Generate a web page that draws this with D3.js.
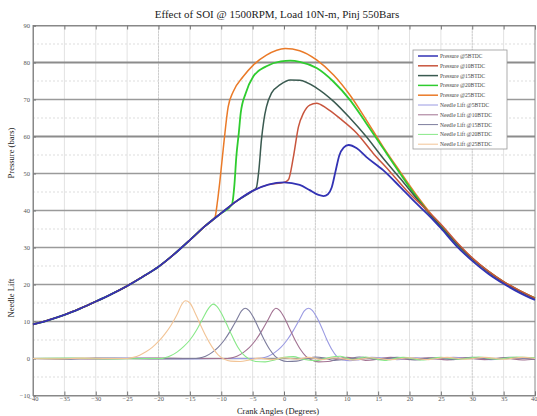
<!DOCTYPE html>
<html><head><meta charset="utf-8">
<script src="https://cdn.jsdelivr.net/npm/d3@7"></script>
<style>body{margin:0;background:#fff}svg{display:block}text{font-family:"Liberation Serif","Times New Roman",serif}</style>
</head><body><svg id="c" width="537" height="416"></svg>
<script>
const xTicks = [-40,-35,-30,-25,-20,-15,-10,-5,0,5,10,15,20,25,30,35,40];
const yTicks = [-10,0,10,20,30,40,50,60,70,80,90];
const title = "Effect of SOI @ 1500RPM, Load 10N-m, Pinj 550Bars";
const seriesNames = ["Pressure @5BTDC","Pressure @10BTDC","Pressure @15BTDC","Pressure @20BTDC","Pressure @25BTDC",
  "Needle Lift @5BTDC","Needle Lift @10BTDC","Needle Lift @15BTDC","Needle Lift @20BTDC","Needle Lift @25BTDC"];
const seriesColors = ["#3232b4","#c8553d","#3a5a50","#2fcc2f","#ea7a28","#9a9ae2","#a27292","#7c7c9c","#88e888","#f2c496"];

const p5 = [[-40,9.2],[-37.5,10.4],[-35,11.8],[-32.5,13.5],[-30,15.4],[-27.5,17.4],[-25,19.6],[-22.5,22.1],[-20,24.8],[-17.5,28.2],[-15,32],[-12.5,35.9],[-10,39.3],[-7.5,42.6],[-5,45.3],[-2.5,47],[0,47.6],[2.5,46.9],[4.1,45.5],[5.5,44.2],[6.3,43.9],[7,44.4],[7.6,46.2],[8.2,50.5],[8.8,54.8],[9.5,57],[10.3,57.7],[11.6,56.8],[13.1,54.5],[15.8,50.9],[18.5,46.4],[21.1,41.9],[23.8,37.4],[25,35.2],[27.5,30.4],[30,26.4],[32.5,23],[35,20.2],[37.5,17.8],[40,15.8]];
const p10 = [[-40,9.2],[-37.5,10.4],[-35,11.8],[-32.5,13.5],[-30,15.4],[-27.5,17.4],[-25,19.6],[-22.5,22.1],[-20,24.8],[-17.5,28.2],[-15,32],[-12.5,35.9],[-10,39.3],[-7.5,42.6],[-5,45.3],[-2.5,47],[0,47.6],[0.7,48.3],[1.5,54.5],[2.3,62.6],[3.1,66.3],[4.1,68.5],[5.2,69],[6.8,67.6],[8.9,64.9],[11.6,60.9],[14.2,55.5],[16.9,50.5],[19.5,45.5],[22.2,41],[24.9,36.5],[27.5,31.5],[30,27.2],[32.5,23.7],[35,20.8],[37.5,18.4],[40,16.3]];
const p15 = [[-40,9.2],[-37.5,10.4],[-35,11.8],[-32.5,13.5],[-30,15.4],[-27.5,17.4],[-25,19.6],[-22.5,22.1],[-20,24.8],[-17.5,28.2],[-15,32],[-12.5,35.9],[-10,39.3],[-7.5,42.6],[-5,45.3],[-4.4,46.2],[-4,51],[-3.6,59],[-3.2,64.5],[-2.8,68],[-2,71.7],[-0.6,74],[1,75.3],[2.5,75.2],[5.2,73.1],[7.9,69.5],[10.5,65],[13.1,60],[15.8,54.1],[18.5,48.7],[21.1,43.3],[23.8,37.9],[25,35.6],[27.5,31],[30,26.9],[32.5,23.5],[35,20.6],[37.5,18.2],[40,16.2]];
const p20 = [[-40,9.2],[-37.5,10.4],[-35,11.8],[-32.5,13.5],[-30,15.4],[-27.5,17.4],[-25,19.6],[-22.5,22.1],[-20,24.8],[-17.5,28.2],[-15,32],[-12.5,35.9],[-10,39.3],[-8.3,41.6],[-7.9,47],[-7.6,54.5],[-7.2,61],[-6.9,66.3],[-6.1,71.7],[-4.9,76.2],[-2.8,79],[-0.5,80.3],[1,80.5],[2.5,80.2],[5.2,78.5],[7.9,74.8],[10.5,69.9],[13.1,63.6],[15.8,56.8],[18.5,50],[21.1,43.7],[23.8,37.9],[25,35.7],[27.5,31.1],[30,27],[32.5,23.6],[35,20.7],[37.5,18.3],[40,16.3]];
const p25 = [[-40,9.2],[-37.5,10.4],[-35,11.8],[-32.5,13.5],[-30,15.4],[-27.5,17.4],[-25,19.6],[-22.5,22.1],[-20,24.8],[-17.5,28.2],[-15,32],[-12.5,35.9],[-11,38.2],[-10.6,42.5],[-10.2,48.2],[-9.6,58],[-8.9,68],[-8.1,72.1],[-6.5,76.2],[-4.9,79.3],[-2.8,82],[0.2,83.8],[2.5,83.2],[5.2,80.7],[7.9,76.6],[10.5,71.2],[13.1,64.5],[15.8,57.2],[18.5,50.5],[21.1,44.2],[23.8,38.3],[25,36],[27.5,31.3],[30,27.1],[32.5,23.7],[35,20.8],[37.5,18.4],[40,16.4]];

const n5 = [[-40,0],[-35,0],[-30,0],[-25,0.1],[-20,0],[-15,-0.1],[-10,0],[-4,0],[-3.5,0.1],[-2.5,0.6],[-1.5,1.6],[-0.5,3],[0.5,5],[1.5,7.6],[2.5,10.6],[3.2,12.8],[3.9,13.6],[4.5,13],[5.2,11.2],[6,8.4],[6.8,5.2],[7.6,2.5],[8.4,0.6],[9.3,-0.3],[10.5,-0.6],[12,-0.3],[14,0.3],[16,0.1],[18,-0.3],[21,0.2],[24,-0.2],[27,0.3],[30,0],[33,-0.3],[36,0.2],[40,-0.1]];
const n10 = [[-40,0],[-35,0],[-30,-0.1],[-25,0],[-20,0.1],[-15,0],[-9,0],[-8.5,0.1],[-7.5,0.6],[-6.5,1.6],[-5.5,3],[-4.5,5],[-3.5,7.6],[-2.5,10.6],[-1.8,12.8],[-1.3,13.6],[-0.7,13],[0,11.2],[0.8,8.4],[1.7,5.2],[2.6,2.5],[3.5,0.6],[4.4,-0.4],[5.5,-0.9],[7,-0.8],[8.5,-0.2],[10,0.3],[11.5,0],[13,-0.5],[15,-0.2],[17,0.3],[20,-0.3],[23,0.2],[26,-0.4],[29,0.2],[32,-0.3],[35,0.2],[38,-0.4],[40,-0.2]];
const n15 = [[-40,0],[-35,-0.2],[-30,0.1],[-25,0],[-20,-0.1],[-14,0],[-13.5,0.1],[-12.5,0.6],[-11.5,1.6],[-10.5,3],[-9.5,5],[-8.5,7.6],[-7.5,10.6],[-6.8,12.8],[-6.2,13.6],[-5.6,13],[-4.9,11.2],[-4.1,8.4],[-3.2,5.2],[-2.3,2.5],[-1.4,0.6],[-0.5,-0.4],[0.5,-0.8],[2,-0.7],[3.5,-0.1],[5,0.4],[6.5,0.1],[8,-0.5],[10,-0.2],[12,0.4],[15,-0.3],[18,0.3],[21,-0.4],[24,0.2],[27,-0.3],[30,0.3],[33,-0.2],[36,0.3],[40,-0.2]];
const n20 = [[-40,0],[-34,0.1],[-28,-0.1],[-22,0],[-19.5,0],[-19,0.2],[-18,0.8],[-17,1.8],[-16,3.2],[-15,5],[-14,7.5],[-13,10.6],[-12,13.6],[-11.3,14.7],[-10.7,14.1],[-10,12.3],[-9.2,9.5],[-8.3,6.2],[-7.4,3.2],[-6.5,1.1],[-5.5,-0.2],[-4.5,-0.8],[-3,-0.9],[-1.5,-0.4],[0,0.3],[1.5,0.5],[3,-0.2],[5,-0.6],[7,0.2],[9,0.6],[11,-0.3],[13,0.4],[16,-0.5],[19,0.3],[22,-0.4],[25,0.3],[28,-0.2],[31,0.4],[34,-0.2],[37,0.4],[40,0.2]];
const n25 = [[-40,0],[-36,-0.1],[-32,0.1],[-28,0],[-25,0],[-24,0.3],[-23,0.9],[-22,1.8],[-21,3],[-20,4.6],[-19,6.6],[-18,9],[-17,12],[-16.3,14.6],[-15.7,15.6],[-15,15],[-14.3,12.8],[-13.5,9.8],[-12.5,6.2],[-11.5,3.2],[-10.5,1],[-9.5,-0.2],[-8.5,-0.7],[-7,-0.8],[-5.5,-0.4],[-4,0.1],[-2,-0.3],[0,0.2],[2,-0.2],[4,0.3],[6,-0.3],[8,0.2],[11,-0.4],[14,0.2],[17,-0.3],[20,0.2],[23,-0.3],[26,0.3],[29,-0.2],[32,0.3],[35,-0.2],[38,0.3],[40,0]];

const svg = d3.select("#c");
const L=33,R=535,T=25.5,B=395.5;
const x = d3.scaleLinear().domain([-40,40]).range([L,R]);
const y = d3.scaleLinear().domain([-10,90]).range([B,T]);

// grid
const g = svg.append("g");
g.selectAll(".vg").data(d3.range(-35,40,5)).join("line")
  .attr("x1",d=>x(d)).attr("x2",d=>x(d)).attr("y1",T).attr("y2",B)
  .attr("stroke","#e2e2e2").attr("stroke-width",1);
g.selectAll(".vd").data([-20,5,30]).join("line")
  .attr("x1",d=>x(d)).attr("x2",d=>x(d)).attr("y1",T).attr("y2",B)
  .attr("stroke","#bbb").attr("stroke-width",1).attr("stroke-dasharray","1,2");
g.selectAll(".hd").data(d3.range(-5,90,10)).join("line")
  .attr("x1",L).attr("x2",R).attr("y1",d=>y(d)).attr("y2",d=>y(d))
  .attr("stroke","#ddd").attr("stroke-width",1).attr("stroke-dasharray","2,2");
g.selectAll(".hg").data(d3.range(0,90,10)).join("line")
  .attr("x1",L).attr("x2",R).attr("y1",d=>y(d)).attr("y2",d=>y(d))
  .attr("stroke",d=>(d===80||d===60)?"#8c8c8c":"#9a9a9a").attr("stroke-width",d=>(d===80||d===60)?2:1.6);

// box
svg.append("rect").attr("x",L).attr("y",T).attr("width",R-L).attr("height",B-T)
  .attr("fill","none").attr("stroke","#888").attr("stroke-width",1);

// axes
const xb = svg.append("g").attr("transform",`translate(0,${B})`)
  .call(d3.axisBottom(x).tickValues(xTicks).tickSize(-4).tickPadding(1).tickFormat(d3.format("d")));
const xt = svg.append("g").attr("transform",`translate(0,${T})`)
  .call(d3.axisTop(x).tickValues(xTicks).tickSize(-4).tickFormat(""));
const yl = svg.append("g").attr("transform",`translate(${L},0)`)
  .call(d3.axisLeft(y).tickValues(yTicks).tickSize(-3).tickPadding(3).tickFormat(d3.format("d")));
[xb,xt,yl].forEach(a=>{a.select(".domain").attr("stroke","#888");
  a.selectAll(".tick line").attr("stroke","#777");
  a.selectAll("text").attr("fill","#555").style("font-size","6.5px").style("font-family","Liberation Serif");});
xb.selectAll(".tick text").filter(d=>d===40).attr("text-anchor","end").attr("dx","2");

// lines
const line = d3.line().x(d=>x(d[0])).y(d=>y(d[1])).curve(d3.curveMonotoneX);
const needles = [n5,n10,n15,n20,n25];
const pressures = [p5,p10,p15,p20,p25];
needles.forEach((s,i)=>svg.append("path").attr("d",line(s)).attr("fill","none")
  .attr("stroke",seriesColors[5+i]).attr("stroke-width",1.1));
const pOrder=[4,3,2,1,0];
pOrder.forEach(i=>svg.append("path").attr("d",line(pressures[i])).attr("fill","none")
  .attr("stroke",seriesColors[i]).attr("stroke-width",i===3||i===0?1.8:1.5));

// title and labels
svg.append("text").attr("x",277).attr("y",18).attr("text-anchor","middle")
  .style("font-size","11px").attr("fill","#222").text(title);
svg.append("text").attr("x",278).attr("y",414).attr("text-anchor","middle")
  .style("font-size","8.5px").attr("fill","#222").text("Crank Angles (Degrees)");
svg.append("text").attr("transform","translate(14,153) rotate(-90)").attr("text-anchor","middle")
  .style("font-size","8.5px").attr("fill","#222").text("Pressure (bars)");
svg.append("text").attr("transform","translate(14,298) rotate(-90)").attr("text-anchor","middle")
  .style("font-size","8.5px").attr("fill","#222").text("Needle Lift");

// legend
const lg = svg.append("g").attr("transform","translate(413,50)");
lg.append("rect").attr("width",94).attr("height",99).attr("fill","#fff").attr("stroke","#999").attr("stroke-width",0.8);
seriesNames.forEach((n,i)=>{
  const yy = 6+i*9.8;
  lg.append("line").attr("x1",5).attr("x2",25).attr("y1",yy).attr("y2",yy)
    .attr("stroke",seriesColors[i]).attr("stroke-width",i<5?1.5:1);
  lg.append("text").attr("x",27).attr("y",yy+2).style("font-size","5.5px").attr("fill","#444").text(n);
});
</script></body></html>
